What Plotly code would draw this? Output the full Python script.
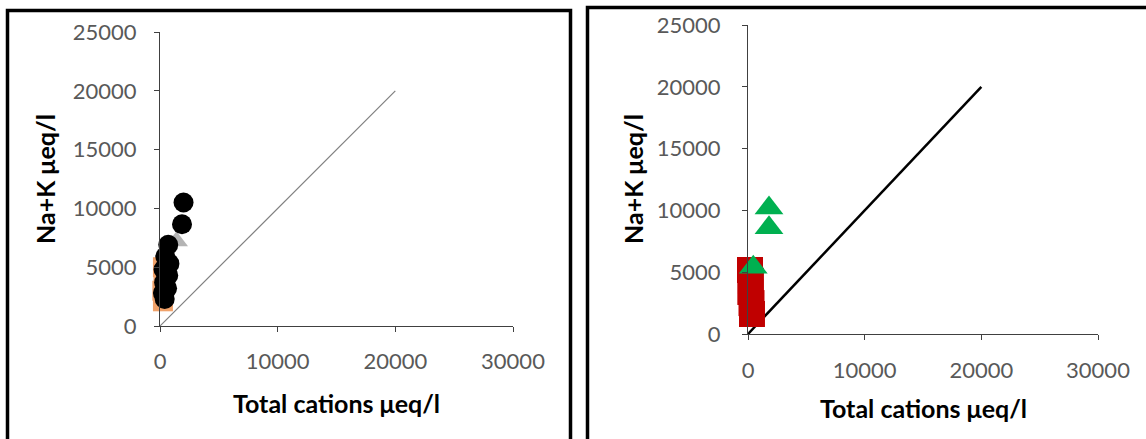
import plotly.graph_objects as go

W, H = 1146, 439

# ---- left panel data ----
left_circle_x = [2000, 1870, 700, 450, 800, 300, 700, 350, 600, 250, 400]
left_circle_y = [10500, 8650, 6900, 5900, 5300, 4800, 4300, 3700, 3200, 2800, 2300]
left_square_x = [250, 300, 200, 250]
left_square_y = [5000, 4000, 3000, 2100]
left_triangle_x = [1400]
left_triangle_y = [7200]

# ---- right panel data ----
right_square_x = [170, 250, 200, 300, 340]
right_square_y = [5180, 4300, 3400, 2500, 1620]
right_triangle_x = [1800, 1800, 450]
right_triangle_y = [10200, 8600, 5400]

# 1:1 reference line
ref_x = [0, 20000]
ref_y = [0, 20000]

x_ticks = [0, 10000, 20000, 30000]
x_tick_labels = ["0", "10000", "20000", "30000"]
y_ticks = [0, 5000, 10000, 15000, 20000, 25000]
y_tick_labels = ["0", "5000", "10000", "15000", "20000", "25000"]

FONT = "Lato"
TICK_COLOR = "#595959"

fig = go.Figure()

# left panel
fig.add_trace(go.Scatter(x=ref_x, y=ref_y, mode="lines",
                         line=dict(color="#808080", width=1.2),
                         xaxis="x", yaxis="y", hoverinfo="skip"))
fig.add_trace(go.Scatter(x=left_square_x, y=left_square_y, mode="markers",
                         marker=dict(symbol="square", size=20, color="#F0A26A"),
                         cliponaxis=False, xaxis="x", yaxis="y"))
fig.add_trace(go.Scatter(x=left_triangle_x, y=left_triangle_y, mode="markers",
                         marker=dict(symbol="triangle-up", size=20, color="#B4B4B4"),
                         cliponaxis=False, xaxis="x", yaxis="y"))
fig.add_trace(go.Scatter(x=left_circle_x, y=left_circle_y, mode="markers",
                         marker=dict(symbol="circle", size=20, color="#000000"),
                         cliponaxis=False, xaxis="x", yaxis="y"))

# right panel
fig.add_trace(go.Scatter(x=ref_x, y=ref_y, mode="lines",
                         line=dict(color="#000000", width=2.5),
                         xaxis="x2", yaxis="y2", hoverinfo="skip"))
fig.add_trace(go.Scatter(x=right_square_x, y=right_square_y, mode="markers",
                         marker=dict(symbol="square", size=26, color="#C00000"),
                         cliponaxis=False, xaxis="x2", yaxis="y2"))
fig.add_trace(go.Scatter(x=right_triangle_x, y=right_triangle_y, mode="markers",
                         marker=dict(symbol="triangle-up", size=25, color="#00B050"),
                         cliponaxis=False, xaxis="x2", yaxis="y2"))


def px_x(p):
    return p / W


def px_y(p):
    return 1 - p / H


def axis_common(line_color, line_width):
    return dict(showline=True, linecolor=line_color, linewidth=line_width,
                ticks="outside", ticklen=5, tickcolor=line_color, tickwidth=line_width,
                showgrid=False, zeroline=False, automargin=False,
                tickfont=dict(family=FONT, size=22, color=TICK_COLOR))


fig.update_layout(
    width=W, height=H,
    margin=dict(l=0, r=0, t=0, b=0),
    paper_bgcolor="white", plot_bgcolor="white",
    showlegend=False,
    xaxis=dict(domain=[px_x(160), px_x(513)], range=[0, 30000],
               tickvals=x_ticks, ticktext=x_tick_labels, anchor="y",
               ticklabelstandoff=11, **axis_common("#404040", 1)),
    yaxis=dict(domain=[px_y(326), px_y(32)], range=[0, 25000],
               tickvals=y_ticks, ticktext=y_tick_labels, anchor="x",
               ticklabelstandoff=13, **axis_common("#404040", 1)),
    xaxis2=dict(domain=[px_x(748), px_x(1098)], range=[0, 30000],
                tickvals=x_ticks, ticktext=x_tick_labels, anchor="y2",
                ticklabelstandoff=11, **axis_common("#404040", 1.3)),
    yaxis2=dict(domain=[px_y(334), px_y(25)], range=[0, 25000],
                tickvals=y_ticks, ticktext=y_tick_labels, anchor="x2",
                ticklabelstandoff=17, **axis_common("#404040", 1.3)),
)

title_font = dict(family=FONT, size=25, color="#000000")
annotations = [
    dict(text="<b>Total cations \u03bceq/l</b>", x=px_x(336), y=px_y(403)),
    dict(text="<b>Na+K \u03bceq/l</b>", x=px_x(45), y=px_y(179), textangle=-90),
    dict(text="<b>Total cations \u03bceq/l</b>", x=px_x(923), y=px_y(408)),
    dict(text="<b>Na+K \u03bceq/l</b>", x=px_x(633), y=px_y(179), textangle=-90),
]
for a in annotations:
    fig.add_annotation(xref="paper", yref="paper", showarrow=False,
                       xanchor="center", yanchor="middle", font=title_font, **a)

# panel frames
frame = dict(type="rect", xref="paper", yref="paper",
             line=dict(color="#000000", width=3.5), fillcolor="rgba(0,0,0,0)")
fig.add_shape(x0=px_x(7.5), x1=px_x(570.5), y0=px_y(460), y1=px_y(10.5), **frame)
fig.add_shape(x0=px_x(587.5), x1=px_x(1170), y0=px_y(460), y1=px_y(7.5), **frame)

fig.write_html("out.html")
